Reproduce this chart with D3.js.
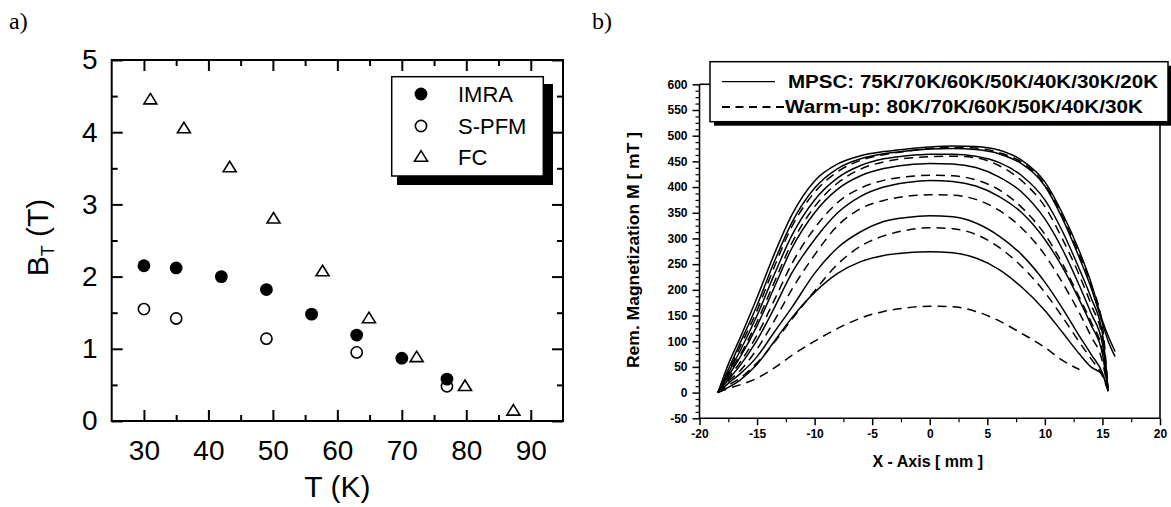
<!DOCTYPE html>
<html>
<head>
<meta charset="utf-8">
<script src="https://cdn.jsdelivr.net/npm/d3@7"></script>
<style>
  html, body { margin: 0; padding: 0; background: #fff; }
  svg { display: block; }
</style>
</head>
<body>
<svg id="fig" width="1171" height="507"></svg>
<script>
// ---------- panel a: trapped field vs temperature ----------
const tempTicks = [30, 40, 50, 60, 70, 80, 90];
const tempMinor = [35, 45, 55, 65, 75, 85];
const fieldTicks = [0, 1, 2, 3, 4, 5];
const fieldMinor = [0.5, 1.5, 2.5, 3.5, 4.5];

const imraT = [30, 35, 42, 49, 56, 63, 70, 77];
const imraB = [2.15, 2.12, 2.00, 1.82, 1.48, 1.19, 0.87, 0.58];
const spfmT = [30, 35, 49, 63, 77];
const spfmB = [1.55, 1.42, 1.14, 0.95, 0.48];
const fcT = [31, 36.2, 43.3, 50.1, 57.7, 64.9, 72.3, 79.8, 87.3];
const fcB = [4.45, 4.05, 3.51, 2.80, 2.07, 1.42, 0.88, 0.48, 0.14];

const legendA = ["IMRA", "S-PFM", "FC"];

// ---------- panel b: remanent magnetization profiles ----------
const posTicks = [-20, -15, -10, -5, 0, 5, 10, 15, 20];
const posMinor = [-17.5, -12.5, -7.5, -2.5, 2.5, 7.5, 12.5, 17.5];
const magTicks = [-50, 0, 50, 100, 150, 200, 250, 300, 350, 400, 450, 500, 550, 600];

// sample positions along the scan (mm)
const xGrid = [-18.4, -17.5, -16.5, -15, -13.5, -12, -10, -8, -6, -4, -2, 0, 2, 4, 6, 8, 10, 11.5, 13, 14, 15, 15.5, 16.1];

// MPSC profiles (mT)
const mpsc75 = [0, 10, 24, 55, 100, 145, 195, 232, 255, 267, 272, 274, 272, 262, 240, 205, 160, 118, 75, 50, 35, 3, null];
const mpsc70 = [0, 18, 36, 70, 118, 165, 232, 282, 313, 333, 341, 344, 342, 330, 305, 268, 215, 165, 110, 75, 38, 3, null];
const mpsc60 = [0, 25, 52, 102, 165, 232, 298, 350, 382, 400, 409, 413, 411, 402, 382, 350, 298, 245, 180, 132, 75, 3, null];
const mpsc50 = [0, 32, 68, 130, 205, 280, 350, 396, 422, 436, 443, 446, 445, 438, 420, 390, 338, 280, 208, 155, 95, 3, null];
const mpsc40 = [0, 38, 80, 150, 230, 305, 375, 418, 442, 455, 461, 464, 464, 460, 448, 422, 375, 315, 240, 185, 115, 3, null];
const mpsc30 = [0, 45, 95, 170, 255, 330, 398, 436, 455, 465, 470, 474, 475, 473, 465, 445, 402, 340, 262, 205, 135, 100, 70];
const mpsc20 = [0, 55, 105, 185, 270, 345, 412, 445, 461, 469, 474, 478, 480, 479, 472, 452, 410, 350, 275, 215, 140, 110, 80];

// warm-up profiles (mT)
const warm80 = [0, 8, 15, 28, 48, 72, 100, 125, 145, 158, 165, 168, 167, 158, 140, 115, 88, 63, 45, null, null, null, null];
const warm70 = [0, 14, 28, 58, 98, 142, 198, 250, 285, 305, 316, 321, 319, 308, 283, 245, 195, 148, 98, 66, 32, 3, null];
const warm60 = [0, 22, 42, 85, 140, 200, 268, 325, 358, 374, 382, 385, 384, 376, 355, 320, 268, 215, 155, 110, 60, 3, null];
const warm50 = [0, 28, 58, 112, 180, 250, 320, 370, 398, 413, 420, 423, 422, 414, 395, 360, 308, 252, 185, 138, 80, 3, null];
const warm40 = [0, 35, 72, 138, 215, 290, 362, 408, 435, 449, 456, 459, 460, 457, 442, 412, 362, 300, 228, 172, 105, 3, null];
const warm30 = [0, 40, 88, 160, 245, 322, 390, 430, 452, 463, 470, 475, 477, 476, 467, 448, 405, 345, 268, 210, 130, 3, null];

const mpscCurves = [mpsc75, mpsc70, mpsc60, mpsc50, mpsc40, mpsc30, mpsc20];
const warmCurves = [warm80, warm70, warm60, warm50, warm40, warm30];

const legendB = ["MPSC: 75K/70K/60K/50K/40K/30K/20K", "Warm-up: 80K/70K/60K/50K/40K/30K"];

const svg = d3.select("#fig");
svg.append("rect").attr("width", 1171).attr("height", 507).attr("fill", "#fff");

const sans = "'Liberation Sans', Arial, Helvetica, sans-serif";
const serif = "'Liberation Serif', 'Times New Roman', serif";

// panel letters
svg.append("text").attr("x", 9).attr("y", 29).attr("font-family", serif)
  .attr("font-size", 24).text("a)");
svg.append("text").attr("x", 592).attr("y", 29).attr("font-family", serif)
  .attr("font-size", 24).text("b)");

// ================= panel a =================
const ax = d3.scaleLinear().domain([25, 95]).range([111.7, 563]);
const ay = d3.scaleLinear().domain([0, 5]).range([421, 60]);
const pa = svg.append("g");

function styleAxis(g, fontSize, weight) {
  g.select(".domain").remove();
  g.selectAll(".tick line").attr("stroke", "#000");
  g.selectAll(".tick text").attr("fill", "#000")
    .attr("font-family", sans).attr("font-size", fontSize).attr("font-weight", weight || "normal");
}

pa.append("g").attr("transform", `translate(0,${ay(0)})`)
  .call(d3.axisBottom(ax).tickValues(tempTicks).tickSize(-11).tickPadding(19))
  .call(g => styleAxis(g, 28)).selectAll(".tick line").attr("stroke-width", 2);
pa.append("g").attr("transform", `translate(0,${ay(0)})`)
  .call(d3.axisBottom(ax).tickValues(tempMinor).tickSize(-6).tickFormat(""))
  .call(g => styleAxis(g, 28)).selectAll(".tick line").attr("stroke-width", 2);
pa.append("g").attr("transform", `translate(0,${ay(5)})`)
  .call(d3.axisTop(ax).tickValues(tempTicks).tickSize(-11).tickFormat(""))
  .call(g => styleAxis(g, 28)).selectAll(".tick line").attr("stroke-width", 2);
pa.append("g").attr("transform", `translate(0,${ay(5)})`)
  .call(d3.axisTop(ax).tickValues(tempMinor).tickSize(-6).tickFormat(""))
  .call(g => styleAxis(g, 28)).selectAll(".tick line").attr("stroke-width", 2);

pa.append("g").attr("transform", `translate(${ax(25)},0)`)
  .call(d3.axisLeft(ay).tickValues(fieldTicks).tickSize(-11).tickPadding(14).tickFormat(d3.format("d")))
  .call(g => styleAxis(g, 28)).selectAll(".tick line").attr("stroke-width", 2);
pa.append("g").attr("transform", `translate(${ax(25)},0)`)
  .call(d3.axisLeft(ay).tickValues(fieldMinor).tickSize(-6).tickFormat(""))
  .call(g => styleAxis(g, 28)).selectAll(".tick line").attr("stroke-width", 2);
pa.append("g").attr("transform", `translate(${ax(95)},0)`)
  .call(d3.axisRight(ay).tickValues(fieldTicks).tickSize(-11).tickFormat(""))
  .call(g => styleAxis(g, 28)).selectAll(".tick line").attr("stroke-width", 2);
pa.append("g").attr("transform", `translate(${ax(95)},0)`)
  .call(d3.axisRight(ay).tickValues(fieldMinor).tickSize(-6).tickFormat(""))
  .call(g => styleAxis(g, 28)).selectAll(".tick line").attr("stroke-width", 2);

// frame
pa.append("rect").attr("x", ax(25)).attr("y", ay(5))
  .attr("width", ax(95) - ax(25)).attr("height", ay(0) - ay(5))
  .attr("fill", "none").attr("stroke", "#000").attr("stroke-width", 2);

// axis titles
pa.append("text").attr("x", (ax(25) + ax(95)) / 2).attr("y", 497)
  .attr("text-anchor", "middle").attr("font-family", sans).attr("font-size", 30).text("T (K)");
const yt = pa.append("text").attr("transform", `translate(48,${(ay(0) + ay(5)) / 2 - 3}) rotate(-90)`)
  .attr("text-anchor", "middle").attr("font-family", sans).attr("font-size", 30);
yt.append("tspan").text("B");
yt.append("tspan").attr("font-size", 18).attr("dy", 6).text("T");
yt.append("tspan").attr("dy", -6).text(" (T)");

// marker shapes
const triW = 13, triH = 10.5;
function triPath() {
  return `M0,${-triH * 0.6}L${triW / 2},${triH * 0.4}L${-triW / 2},${triH * 0.4}Z`;
}

const spfm = spfmT.map((t, i) => ({ t, b: spfmB[i] }));
const imra = imraT.map((t, i) => ({ t, b: imraB[i] }));
const fc = fcT.map((t, i) => ({ t, b: fcB[i] }));

pa.selectAll("circle.spfm").data(spfm).join("circle").attr("class", "spfm")
  .attr("cx", d => ax(d.t)).attr("cy", d => ay(d.b)).attr("r", 5.6)
  .attr("fill", "#fff").attr("stroke", "#000").attr("stroke-width", 1.6);
pa.selectAll("circle.imra").data(imra).join("circle").attr("class", "imra")
  .attr("cx", d => ax(d.t)).attr("cy", d => ay(d.b)).attr("r", 6.4)
  .attr("fill", "#000");
pa.selectAll("path.fc").data(fc).join("path").attr("class", "fc")
  .attr("transform", d => `translate(${ax(d.t)},${ay(d.b)})`).attr("d", triPath())
  .attr("fill", "#fff").attr("stroke", "#000").attr("stroke-width", 1.6).attr("stroke-linejoin", "miter");

// legend a
const lgA = pa.append("g");
lgA.append("rect").attr("x", 397).attr("y", 84).attr("width", 156).attr("height", 101).attr("fill", "#000");
lgA.append("rect").attr("x", 391.7).attr("y", 76.7).attr("width", 151.6).attr("height", 99.3)
  .attr("fill", "#fff").attr("stroke", "#000").attr("stroke-width", 1.5);
const rowY = [94, 126, 157];
lgA.append("circle").attr("cx", 421).attr("cy", rowY[0]).attr("r", 6.4).attr("fill", "#000");
lgA.append("circle").attr("cx", 421).attr("cy", rowY[1]).attr("r", 5.6)
  .attr("fill", "#fff").attr("stroke", "#000").attr("stroke-width", 1.6);
lgA.append("path").attr("transform", `translate(421,${rowY[2]})`).attr("d", triPath())
  .attr("fill", "#fff").attr("stroke", "#000").attr("stroke-width", 1.6);
lgA.selectAll("text").data(legendA).join("text")
  .attr("x", 458).attr("y", (d, i) => rowY[i]).attr("dy", "0.36em")
  .attr("font-family", sans).attr("font-size", 22).text(d => d);

// ================= panel b =================
const bx = d3.scaleLinear().domain([-20, 20]).range([699.5, 1160]);
const by = d3.scaleLinear().domain([-50, 600]).range([418.3, 84.3]);
const pb = svg.append("g");
const hyphenFmt = v => String(v);

const magMinor = [];
magTicks.slice(0, -1).forEach(v => { for (let k = 1; k < 4; k++) magMinor.push(v + k * 12.5); });

pb.append("g").attr("transform", `translate(${bx(-20)},0)`)
  .call(d3.axisLeft(by).tickValues(magTicks).tickSize(7).tickPadding(5).tickFormat(hyphenFmt))
  .call(g => styleAxis(g, 12, "bold")).selectAll(".tick line").attr("stroke-width", 1.5);
pb.append("g").attr("transform", `translate(${bx(-20)},0)`)
  .call(d3.axisLeft(by).tickValues(magMinor).tickSize(4).tickFormat(""))
  .call(g => styleAxis(g, 12)).selectAll(".tick line").attr("stroke-width", 1.2);
pb.append("g").attr("transform", `translate(0,${by(-50)})`)
  .call(d3.axisBottom(bx).tickValues(posTicks).tickSize(7).tickPadding(4).tickFormat(hyphenFmt))
  .call(g => styleAxis(g, 12, "bold")).selectAll(".tick line").attr("stroke-width", 1.5);
pb.append("g").attr("transform", `translate(0,${by(-50)})`)
  .call(d3.axisBottom(bx).tickValues(posMinor).tickSize(4).tickFormat(""))
  .call(g => styleAxis(g, 12)).selectAll(".tick line").attr("stroke-width", 1.2);

// axis lines
const axisLines = [
  [bx(-20), by(600), bx(-20), by(-50)],
  [bx(-20), by(-50), bx(20), by(-50)],
  [bx(20), 124, bx(20), by(-50)],
  [bx(-20), by(600), 711, by(600)]
];
pb.selectAll("line.frame").data(axisLines).join("line").attr("class", "frame")
  .attr("x1", d => d[0]).attr("y1", d => d[1]).attr("x2", d => d[2]).attr("y2", d => d[3])
  .attr("stroke", "#000").attr("stroke-width", 1.6);

// profiles
const line = d3.line()
  .defined(d => d[1] !== null)
  .x(d => bx(d[0])).y(d => by(d[1]))
  .curve(d3.curveMonotoneX);
const toPts = arr => xGrid.map((x, i) => [x, arr[i]]);

pb.selectAll("path.mpsc").data(mpscCurves).join("path").attr("class", "mpsc")
  .attr("d", d => line(toPts(d))).attr("fill", "none").attr("stroke", "#000").attr("stroke-width", 1.5);
pb.selectAll("path.warm").data(warmCurves).join("path").attr("class", "warm")
  .attr("d", d => line(toPts(d))).attr("fill", "none").attr("stroke", "#000").attr("stroke-width", 1.5)
  .attr("stroke-dasharray", "9,6");

// axis titles
pb.append("text").attr("x", (bx(-20) + bx(20)) / 2 - 2).attr("y", 467)
  .attr("text-anchor", "middle").attr("font-family", sans).attr("font-weight", "bold")
  .attr("font-size", 16).text("X - Axis [ mm ]");
pb.append("text").attr("transform", `translate(639,250) rotate(-90)`)
  .attr("text-anchor", "middle").attr("font-family", sans).attr("font-weight", "bold")
  .attr("font-size", 17).attr("textLength", 236).attr("lengthAdjust", "spacingAndGlyphs")
  .text("Rem. Magnetization M [ mT ]");

// legend b
const lgB = pb.append("g");
lgB.append("rect").attr("x", 714).attr("y", 65.7).attr("width", 458).attr("height", 60).attr("fill", "#000");
lgB.append("rect").attr("x", 710).attr("y", 61.7).attr("width", 458).attr("height", 60)
  .attr("fill", "#fff").attr("stroke", "#000").attr("stroke-width", 1.5);
lgB.append("line").attr("x1", 722).attr("x2", 775).attr("y1", 81.7).attr("y2", 81.7)
  .attr("stroke", "#000").attr("stroke-width", 1.2);
lgB.append("line").attr("x1", 722).attr("x2", 784).attr("y1", 107).attr("y2", 107)
  .attr("stroke", "#000").attr("stroke-width", 2.2).attr("stroke-dasharray", "8,5.5");
const lgBx = [788, 785], lgBy = [88.3, 113.3], lgBw = [370, 358];
lgB.selectAll("text").data(legendB).join("text")
  .attr("x", (d, i) => lgBx[i]).attr("y", (d, i) => lgBy[i])
  .attr("font-family", sans).attr("font-weight", "bold").attr("font-size", 18.5)
  .attr("textLength", (d, i) => lgBw[i]).attr("lengthAdjust", "spacingAndGlyphs")
  .text(d => d);
</script>
</body>
</html>
